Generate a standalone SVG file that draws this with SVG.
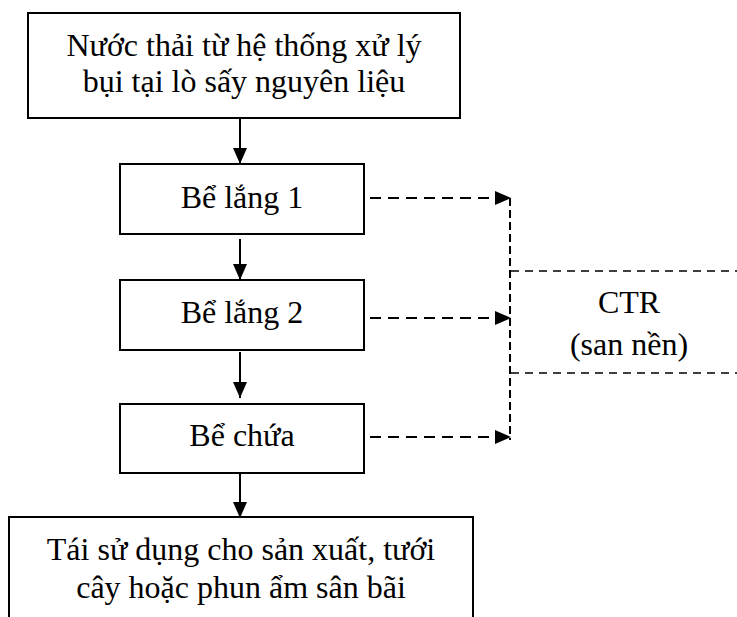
<svg xmlns="http://www.w3.org/2000/svg" width="737" height="617" viewBox="0 0 737 617">
<defs>
<style>
.box{fill:#fff;stroke:#000;stroke-width:2}
.t{font-family:"Liberation Serif","Times New Roman",serif;font-size:32px;fill:#000;text-anchor:middle}
.solid{stroke:#000;stroke-width:2;fill:none}
.dash{stroke:#000;stroke-width:2;fill:none;stroke-dasharray:11 7}
.vdash{stroke:#000;stroke-width:2;fill:none;stroke-dasharray:8 4}
.thin{stroke:#000;stroke-width:1.3;fill:none;stroke-dasharray:8 6}
</style>
<marker id="ah" viewBox="0 0 16 14" refX="16" refY="7" markerWidth="16" markerHeight="14" markerUnits="userSpaceOnUse" orient="auto">
<path d="M0,0 L16,7 L0,14 Z" fill="#000"/>
</marker>
</defs>
<rect width="737" height="617" fill="#fff"/>
<g id="connectors">
<line class="solid" x1="240" y1="118" x2="240" y2="164" marker-end="url(#ah)"/>
<line class="solid" x1="240" y1="239" x2="240" y2="280" marker-end="url(#ah)"/>
<line class="solid" x1="240" y1="352" x2="240" y2="398" marker-end="url(#ah)"/>
<line class="solid" x1="240" y1="474" x2="240" y2="518" marker-end="url(#ah)"/>
<line class="dash" x1="370" y1="198" x2="511" y2="198" marker-end="url(#ah)"/>
<line class="dash" x1="370" y1="318" x2="511" y2="318" marker-end="url(#ah)"/>
<line class="dash" x1="370" y1="437" x2="511" y2="437" marker-end="url(#ah)"/>
<line class="vdash" x1="510" y1="198" x2="510" y2="440"/>
</g>
<g id="n-source">
<rect class="box" x="28" y="13" width="432" height="105"/>
<text class="t" x="244" y="56">Nước thải từ hệ thống xử lý</text>
<text class="t" x="244" y="92">bụi tại lò sấy nguyên liệu</text>
</g>
<g id="n-lang1">
<rect class="box" x="120" y="164" width="244" height="70"/>
<text class="t" x="242" y="208">Bể lắng 1</text>
</g>
<g id="n-lang2">
<rect class="box" x="120" y="280" width="244" height="70"/>
<text class="t" x="242" y="323">Bể lắng 2</text>
</g>
<g id="n-chua">
<rect class="box" x="120" y="404" width="244" height="69"/>
<text class="t" x="242" y="446">Bể chứa</text>
</g>
<g id="n-reuse">
<path class="solid" d="M9,630 V517 H473 V630"/>
<text class="t" x="241" y="560">Tái sử dụng cho sản xuất, tưới</text>
<text class="t" x="241" y="598">cây hoặc phun ẩm sân bãi</text>
</g>
<g id="n-ctr">
<path class="thin" d="M511,271 H740 M511,373 H740"/>
<text class="t" x="629" y="313">CTR</text>
<text class="t" x="629" y="355">(san nền)</text>
</g>
</svg>
